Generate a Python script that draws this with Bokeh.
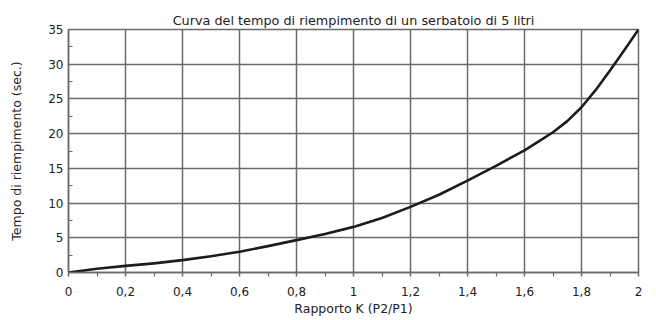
from bokeh.plotting import figure
from bokeh.models import Range1d, FixedTicker
from bokeh.embed import file_html
from bokeh.resources import INLINE

# Data
k_ratio = [0.0, 0.1, 0.2, 0.3, 0.4, 0.5, 0.6, 0.7, 0.8, 0.9, 1.0,
           1.1, 1.2, 1.3, 1.4, 1.5, 1.6, 1.65, 1.7, 1.75, 1.8, 1.85, 1.9, 1.95, 2.0]
fill_time = [0.0, 0.55, 0.95, 1.32, 1.78, 2.35, 3.0, 3.8, 4.66, 5.55, 6.57,
             7.85, 9.45, 11.2, 13.23, 15.35, 17.6, 18.9, 20.2, 21.8, 23.8, 26.3, 29.1, 32.0, 35.0]

x_ticks = [0, 0.2, 0.4, 0.6, 0.8, 1, 1.2, 1.4, 1.6, 1.8, 2]
x_tick_labels = ["0", "0,2", "0,4", "0,6", "0,8", "1", "1,2", "1,4", "1,6", "1,8", "2"]
x_minor = [0.1, 0.3, 0.5, 0.7, 0.9, 1.1, 1.3, 1.5, 1.7, 1.9]
y_ticks = [0, 5, 10, 15, 20, 25, 30, 35]
y_minor = [2.5, 7.5, 12.5, 17.5, 22.5, 27.5, 32.5]

title_text = "Curva del tempo di riempimento di un serbatoio di 5 litri"
x_label = "Rapporto K (P2/P1)"
y_label = "Tempo di riempimento (sec.)"

FONT = "DejaVu Sans"
GRID = "#6a6a6a"

p = figure(width=652, height=318, output_backend="svg", toolbar_location=None,
           x_range=Range1d(0, 2), y_range=Range1d(0, 35),
           min_border_left=68, min_border_right=14,
           min_border_top=29, min_border_bottom=44,
           title=title_text)

p.title.align = "center"
p.title.text_font = FONT
p.title.text_font_size = "12.8px"
p.title.text_font_style = "normal"
p.title.text_color = "#222222"
p.title.standoff = 3

p.xaxis.ticker = FixedTicker(ticks=x_ticks, minor_ticks=x_minor)
p.yaxis.ticker = FixedTicker(ticks=y_ticks, minor_ticks=y_minor)
p.xaxis.major_label_overrides = {t: l for t, l in zip(x_ticks, x_tick_labels)}

for ax in (p.xaxis[0], p.yaxis[0]):
    ax.axis_line_color = GRID
    ax.axis_line_width = 1.5
    ax.major_tick_line_color = GRID
    ax.minor_tick_line_color = GRID
    ax.major_tick_line_width = 1.5
    ax.minor_tick_line_width = 1.2
    ax.major_label_text_font = FONT
    ax.major_label_text_font_size = "12px"
    ax.major_label_text_color = "#222222"
    ax.axis_label_text_font = FONT
    ax.axis_label_text_font_size = "12.5px"
    ax.axis_label_text_font_style = "normal"
    ax.axis_label_text_color = "#222222"

p.xaxis.axis_label = x_label
p.xaxis.major_tick_in = 0
p.xaxis.major_tick_out = 4
p.xaxis.minor_tick_in = 0
p.xaxis.minor_tick_out = 4
p.xaxis.major_label_standoff = 10
p.xaxis.axis_label_standoff = 2

p.yaxis.axis_label = y_label
p.yaxis.major_tick_in = 0
p.yaxis.major_tick_out = 0
p.yaxis.minor_tick_in = 4
p.yaxis.minor_tick_out = 0
p.yaxis.major_label_standoff = 5
p.yaxis.axis_label_standoff = 21

p.grid.grid_line_color = GRID
p.grid.grid_line_width = 1.5
p.outline_line_color = GRID
p.outline_line_width = 1.5
p.background_fill_color = "white"
p.border_fill_color = "white"

p.line(k_ratio, fill_time, line_color="#1c1c1c", line_width=2.6, line_join="round")

open("out.html", "w").write(file_html(p, INLINE))
